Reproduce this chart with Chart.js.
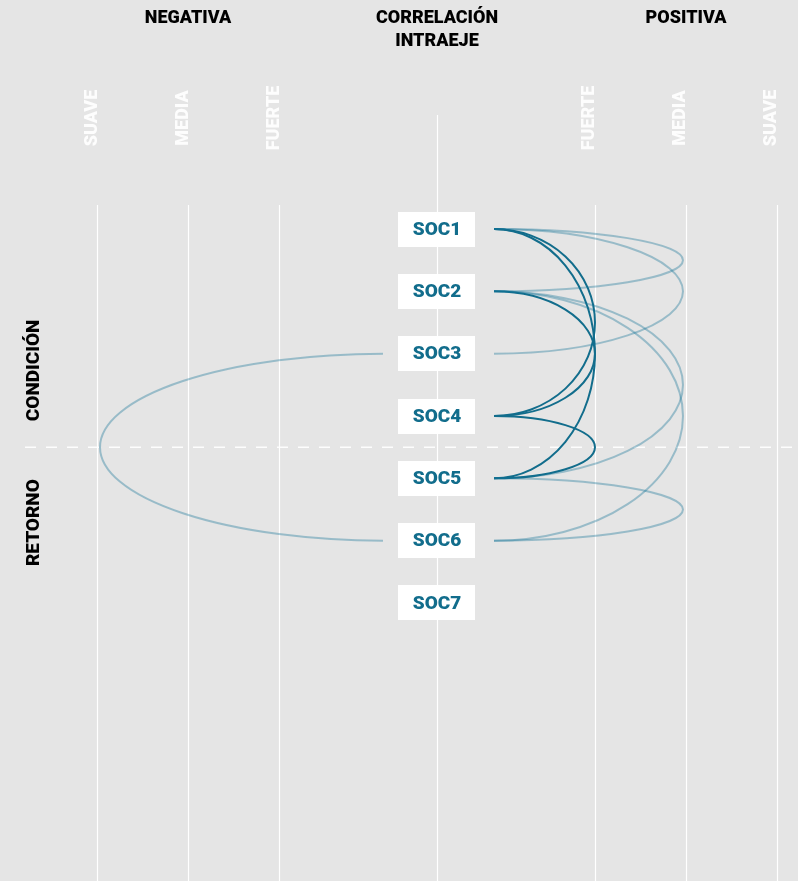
<!DOCTYPE html>
<html>
<head>
<meta charset="utf-8">
<script src="https://cdn.jsdelivr.net/npm/chart.js@4/dist/chart.umd.min.js"></script>
<style>
  body { margin: 0; background: #e5e5e5; }
  #wrap { width: 798px; height: 881px; position: relative; }
</style>
</head>
<body>
<div id="wrap"><canvas id="arcChart"></canvas></div>
<script>
/* arc chart - correlacion intraeje */

// nodes, top to bottom
var nodes = ['SOC1', 'SOC2', 'SOC3', 'SOC4', 'SOC5', 'SOC6', 'SOC7'];
var groups = ['CONDICIÓN', 'RETORNO'];
var groupSplit = 4.5;   // between SOC4 and SOC5

// strength levels, from the centre axis outwards
var levels = ['FUERTE', 'MEDIA', 'SUAVE'];
var sides = ['NEGATIVA', 'POSITIVA'];

// links between nodes (1-based index), sign of correlation and strength
var linkFrom  = [1, 1, 2, 4, 1, 1, 2, 2, 5, 3];
var linkTo    = [4, 5, 4, 5, 2, 3, 5, 6, 6, 6];
var linkSign  = [1, 1, 1, 1, 1, 1, 1, 1, 1, -1];
var linkLevel = ['FUERTE', 'FUERTE', 'FUERTE', 'FUERTE', 'MEDIA', 'MEDIA', 'MEDIA', 'MEDIA', 'MEDIA', 'SUAVE'];

// layout / style
var levelGap = 0.736;        // extra space between centre axis and first level
var teal = '#126d8c';
var tealLight = 'rgba(18, 115, 150, 0.36)';
var font = 'Roboto, "Liberation Sans", sans-serif';

function levelValue(level, sign) {
    return sign * (levelGap + levels.indexOf(level) + 1);
}

var arcPlugin = {
    id: 'arcs',
    beforeDatasetsDraw: function(chart) {
        var c = chart.ctx;
        var xs = chart.scales.x;
        var ys = chart.scales.y;
        var x0 = xs.getPixelForValue(0);
        var bottom = chart.height;

        c.save();
        // vertical guide lines
        c.strokeStyle = '#ffffff';
        c.lineWidth = 1.2;
        c.beginPath();
        c.moveTo(Math.round(x0) + 0.5, 115);
        c.lineTo(Math.round(x0) + 0.5, bottom);
        levels.forEach(function(l) {
            [-1, 1].forEach(function(s) {
                var px = Math.round(xs.getPixelForValue(levelValue(l, s))) + 0.5;
                c.moveTo(px, 205);
                c.lineTo(px, bottom);
            });
        });
        c.stroke();

        // dashed split line
        var yd = ys.getPixelForValue(groupSplit);
        c.setLineDash([11, 10]);
        c.strokeStyle = 'rgba(255,255,255,0.9)';
        c.lineWidth = 1.5;
        c.beginPath();
        c.moveTo(25, yd);
        c.lineTo(chart.width, yd);
        c.stroke();
        c.setLineDash([]);

        // level labels, rotated
        c.fillStyle = 'rgba(255,255,255,0.92)';
        c.font = '900 18px ' + font;
        c.textAlign = 'center';
        c.textBaseline = 'middle';
        levels.forEach(function(l) {
            [-1, 1].forEach(function(s) {
                var px = xs.getPixelForValue(levelValue(l, s)) - 5;
                c.save();
                c.translate(px, 118);
                c.rotate(-Math.PI / 2);
                c.fillText(l, 0, 0);
                c.restore();
            });
        });

        // headers
        c.fillStyle = '#000000';
        c.font = '900 18px ' + font;
        c.fillText(sides[0], xs.getPixelForValue(levelValue('MEDIA', -1)), 18);
        c.fillText(sides[1], xs.getPixelForValue(levelValue('MEDIA', 1)), 18);
        c.fillText('CORRELACIÓN', x0, 18);
        c.fillText('INTRAEJE', x0, 41);

        // group labels
        c.font = '900 19px ' + font;
        c.save();
        c.translate(34, yd - 26);
        c.rotate(-Math.PI / 2);
        c.textAlign = 'left';
        c.fillText(groups[0], 0, 0);
        c.restore();
        c.save();
        c.translate(34, yd + 32);
        c.rotate(-Math.PI / 2);
        c.textAlign = 'right';
        c.fillText(groups[1], 0, 0);
        c.restore();

        // arcs
        c.lineWidth = 2;
        for (var i = 0; i < linkFrom.length; i++) {
            var s = linkSign[i];
            var y1 = ys.getPixelForValue(linkFrom[i]);
            var y2 = ys.getPixelForValue(linkTo[i]);
            var cx = x0 + (s > 0 ? 57 : -54);
            var apex = xs.getPixelForValue(levelValue(linkLevel[i], s));
            var rx = Math.abs(apex - cx) - (linkLevel[i] == 'FUERTE' ? 0 : 3);
            var ry = Math.abs(y2 - y1) / 2;
            c.strokeStyle = linkLevel[i] == 'FUERTE' ? teal : tealLight;
            c.beginPath();
            if (s > 0) {
                c.ellipse(cx, (y1 + y2) / 2, rx, ry, 0, -Math.PI / 2, Math.PI / 2);
            } else {
                c.ellipse(cx, (y1 + y2) / 2, rx, ry, 0, Math.PI / 2, Math.PI * 1.5);
            }
            c.stroke();
        }

        // node boxes
        c.font = '900 19px ' + font;
        c.textAlign = 'center';
        nodes.forEach(function(n, k) {
            var py = ys.getPixelForValue(k + 1);
            c.fillStyle = '#ffffff';
            c.fillRect(Math.round(x0 - 38.5), Math.round(py - 17.5), 77, 35);
            c.fillStyle = teal;
            c.fillText(n, x0, py + 1);
        });
        c.restore();
    }
};

var ctx = document.getElementById('arcChart').getContext('2d');
var chart = new Chart(ctx, {
    type: 'scatter',
    data: {
        datasets: [{
            label: 'nodos',
            data: nodes.map(function(n, k) { return { x: 0, y: k + 1 }; }),
            pointRadius: 0
        }]
    },
    options: {
        responsive: true,
        maintainAspectRatio: false,
        animation: false,
        layout: { padding: 0 },
        plugins: {
            legend: { display: false },
            tooltip: { enabled: false }
        },
        scales: {
            x: { type: 'linear', min: -4.802, max: 3.967, display: false },
            y: { type: 'linear', reverse: true, min: -2.674, max: 11.46, display: false }
        }
    },
    plugins: [arcPlugin]
});
</script>
</body>
</html>
